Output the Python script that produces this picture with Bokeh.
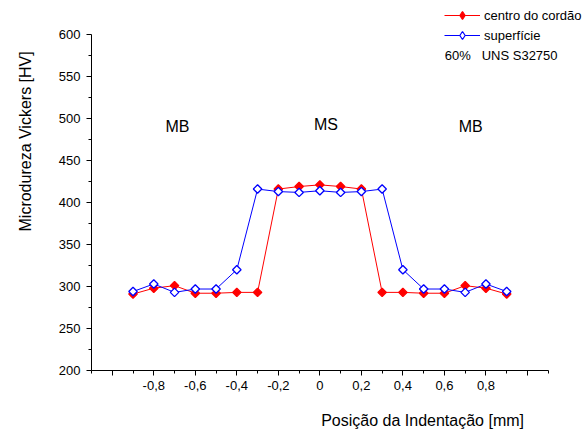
import math
from bokeh.plotting import figure
from bokeh.models import (Range1d, FixedTicker, CustomJSTickFormatter, Label,
                          Legend, LegendItem, Title)
from bokeh.embed import file_html
from bokeh.resources import INLINE

# ---- data ----
posicao = [-0.9, -0.8, -0.7, -0.6, -0.5, -0.4, -0.3, -0.2, -0.1, 0.0,
           0.1, 0.2, 0.3, 0.4, 0.5, 0.6, 0.7, 0.8, 0.9]
centro_do_cordao = [291, 298, 301, 292, 292, 293, 293, 416, 419, 421,
                    419, 416, 293, 293, 292, 292, 301, 298, 291]
superficie = [294, 303, 293, 297, 297, 320, 416, 413, 412, 414,
              412, 413, 416, 320, 297, 297, 293, 303, 294]

series_names = ["centro do cordão", "superfície"]
note_text = "60%\u00a0\u00a0\u00a0UNS S32750"
region_labels = ["MB", "MS", "MB"]

xtick_vals = [-1.0, -0.8, -0.6, -0.4, -0.2, 0.0, 0.2, 0.4, 0.6, 0.8, 1.0]
xtick_labels = ["", "-0,8", "-0,6", "-0,4", "-0,2", "0", "0,2", "0,4", "0,6", "0,8", ""]
xminor_vals = [-1.1, -0.9, -0.7, -0.5, -0.3, -0.1, 0.1, 0.3, 0.5, 0.7, 0.9, 1.1]
ytick_vals = [200, 250, 300, 350, 400, 450, 500, 550, 600]
yminor_vals = [225, 275, 325, 375, 425, 475, 525, 575]

x_title = "Posição da Indentação [mm]"
y_title = "Microdureza Vickers [HV]"

FONT = "Liberation Sans"

# ---- figure ----
p = figure(width=584, height=432,
           x_range=Range1d(-1.1, 1.2748), y_range=Range1d(200, 640.48),
           output_backend="svg", toolbar_location=None,
           min_border_left=91, min_border_right=0,
           min_border_top=0, min_border_bottom=62)
p.outline_line_color = None
p.xgrid.visible = False
p.ygrid.visible = False
p.background_fill_color = "white"
p.border_fill_color = "white"

RED = "#ff0000"
BLUE = "#0000ff"

l1 = p.line(posicao, centro_do_cordao, line_color=RED, line_width=1)
l2 = p.line(posicao, superficie, line_color=BLUE, line_width=1)
s1 = p.scatter(posicao, centro_do_cordao, marker="square", size=6, angle=math.pi / 4,
               fill_color=RED, line_color=RED, line_width=1.3)
s2 = p.scatter(posicao, superficie, marker="square", size=6, angle=math.pi / 4,
               fill_color="white", line_color=BLUE, line_width=1.3)

# hidden diamond renderers of the same series, used only for the legend glyphs
k1 = p.scatter(posicao, centro_do_cordao, marker="diamond", fill_color=RED,
               line_color=RED, line_width=1.2, visible=False)
k2 = p.scatter(posicao, superficie, marker="diamond", fill_color="white",
               line_color=BLUE, line_width=1.2, visible=False)

# ---- axes ----
for ax in (p.xaxis[0], p.yaxis[0]):
    ax.axis_line_color = "black"
    ax.axis_line_width = 1
    ax.major_tick_line_color = "black"
    ax.minor_tick_line_color = "black"
    ax.major_tick_out = 5
    ax.major_tick_in = 0
    ax.minor_tick_out = 3
    ax.minor_tick_in = 0
    ax.major_label_text_font = FONT
    ax.major_label_text_font_size = "13px"
    ax.major_label_text_color = "black"

p.xaxis.bounds = (-1.1, 1.1)
p.xaxis.ticker = FixedTicker(ticks=xtick_vals, minor_ticks=xminor_vals)
p.xaxis.formatter = CustomJSTickFormatter(
    args=dict(vals=xtick_vals, labels=xtick_labels),
    code="for (let i = 0; i < vals.length; i++) { if (Math.abs(vals[i] - tick) < 1e-9) return labels[i]; } return '';")
p.xaxis.major_label_standoff = 5

p.yaxis.bounds = (200, 600)
p.yaxis.ticker = FixedTicker(ticks=ytick_vals, minor_ticks=yminor_vals)
p.yaxis.major_label_standoff = 6

# ---- axis titles (with blank spacer panels between axis and title) ----
p.add_layout(Title(text=" ", text_font_size="1px", standoff=14), "below")
p.add_layout(Title(text=x_title, align="left", offset=229.7, standoff=0,
                   text_font=FONT, text_font_size="16px", text_font_style="normal",
                   text_color="black"), "below")
p.add_layout(Title(text=" ", text_font_size="1px", standoff=19), "left")
p.add_layout(Title(text=y_title, align="left", offset=139, standoff=0,
                   text_font=FONT, text_font_size="16px", text_font_style="normal",
                   text_color="black"), "left")

# ---- legend ----
legend = Legend(items=[LegendItem(label=series_names[0], renderers=[l1, k1]),
                       LegendItem(label=series_names[1], renderers=[l2, k2])],
                location=(353, 325), orientation="vertical",
                glyph_width=36, glyph_height=20, label_height=20,
                spacing=0, label_standoff=4, padding=0, margin=0,
                border_line_alpha=0, background_fill_alpha=0,
                label_text_font=FONT, label_text_font_size="13px",
                label_text_color="black")
p.add_layout(legend)

# ---- texts ----
p.add_layout(Label(x=0.602, y=575, text=note_text, text_font=FONT,
                   text_font_size="13px", text_align="left", text_baseline="middle",
                   text_color="black"))

region_x = [-0.686, 0.029, 0.727]
region_y = [490, 493, 490]
for t, xx, yy in zip(region_labels, region_x, region_y):
    p.add_layout(Label(x=xx, y=yy, text=t, text_font=FONT, text_font_size="16px",
                       text_align="center", text_baseline="middle", text_color="black"))

open("out.html", "w").write(file_html(p, INLINE))
